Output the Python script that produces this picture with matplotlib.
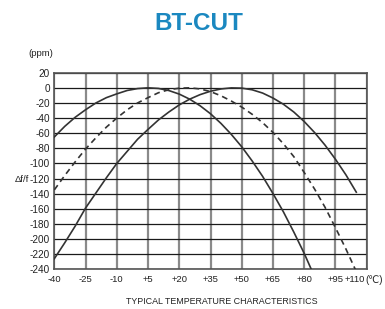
import matplotlib
matplotlib.use("Agg")
import matplotlib.pyplot as plt
from matplotlib.transforms import ScaledTranslation

# ---- data ----
temps_a = [-40, -35, -30, -25, -20, -15, -10, -5, 0, 5, 10, 15, 20, 25, 30, 35, 40,
           45, 50, 55, 60, 65, 70, 75, 80, 85]
curve_a = [-65, -51, -39, -29, -20, -13, -8, -3.5, -1, 0, -0.8, -3.6, -8.3, -15, -23.7,
           -34.3, -47, -61.6, -78, -96.7, -117, -139.8, -164, -190.8, -219, -250]

temps_b = [-40, -35, -30, -25, -20, -15, -10, -5, 0, 5, 10, 15, 20, 25, 30, 35, 40,
           45, 50, 55, 60, 65, 70, 75, 80, 85, 90, 95, 100, 105]
curve_b = [-226, -205, -183, -159, -139, -119, -100, -84, -68, -55, -42.5, -32, -22.6,
           -15, -9, -4.5, -1.5, -0.1, -0.4, -2.6, -6.9, -13.5, -21.7, -32, -44.6, -59.2,
           -75.8, -94.5, -115, -138]

temps_c = [-40, -35, -30, -25, -20, -15, -10, -5, 0, 5, 10, 15, 20, 25, 30, 35, 40,
           45, 50, 55, 60, 65, 70, 75, 80, 85, 90, 95, 100, 105]
curve_c = [-135, -116, -98, -81, -66, -52, -40, -29, -20, -13, -6.5, -2.5, -0.5, 0,
           -1.5, -5, -10.5, -17.5, -25.5, -35, -46, -59, -74, -91, -112, -134, -158,
           -185, -213, -243]

x_ticks = [-40, -25, -10, 5, 20, 35, 50, 65, 80, 95, 110]
x_tick_labels = ["-40", "-25", "-10", "+5", "+20", "+35", "+50", "+65", "+80", "+95", "+110"]
y_ticks = list(range(20, -241, -20))
y_tick_labels = [str(v) for v in y_ticks]

FONT = ["Liberation Sans", "DejaVu Sans"]
plt.rcParams["font.family"] = FONT

fig = plt.figure(figsize=(3.85, 3.09), dpi=100)
ax = fig.add_axes([54.3 / 385, 1 - 269.3 / 309, (366.7 - 54.3) / 385, (269.3 - 72.7) / 309])

ax.set_xlim(-40, 110)
ax.set_ylim(-240, 20)

# grid
for xv in x_ticks:
    ax.axvline(xv, color="#8a8a8a", lw=1.6, zorder=1)
for yv in y_ticks:
    ax.axhline(yv, color="#1a1a1a", lw=0.9, zorder=1)

curve_color = "#333333"
ax.plot(temps_a, curve_a, color=curve_color, lw=1.2, zorder=3)
ax.plot(temps_b, curve_b, color=curve_color, lw=1.2, zorder=3)
ax.plot(temps_c, curve_c, color=curve_color, lw=1.2, ls=(0, (3.5, 2.5)), zorder=3)

for s in ax.spines.values():
    s.set_color("#555555")
    s.set_linewidth(1.2)

ax.set_xticks(x_ticks)
ax.set_xticklabels(x_tick_labels)
ax.set_yticks(y_ticks)
ax.set_yticklabels(y_tick_labels)
ax.tick_params(length=0, labelsize=7.2, colors="#222222", pad=3)
ax.tick_params(axis="x", pad=4, labelsize=6.8)

# shift the last x label to the left like in the reference
lab = ax.get_xticklabels()[-1]
lab.set_transform(lab.get_transform() + ScaledTranslation(-12 / 100, 0, fig.dpi_scale_trans))

fig.text(199 / 385, 1 - 23 / 309, "BT-CUT", color="#1b88c0", fontsize=17.5,
         fontweight="bold", ha="center", va="center")
fig.text(41 / 385, 1 - 53 / 309, "(ppm)", fontsize=6.8, color="#222222", ha="center", va="center")
fig.text(22 / 385, 1 - 180 / 309, "Δf/f", fontsize=6.8, color="#222222", ha="center", va="center")
fig.text(365 / 385, 1 - 280 / 309, "(℃)", fontsize=7, color="#222222", ha="left", va="center",
         family=["Liberation Sans", "DejaVu Sans"])
fig.text(222 / 385, 1 - 302 / 309, "TYPICAL TEMPERATURE CHARACTERISTICS", fontsize=6.4,
         color="#222222", ha="center", va="center")

fig.savefig("out.png", dpi=100)
